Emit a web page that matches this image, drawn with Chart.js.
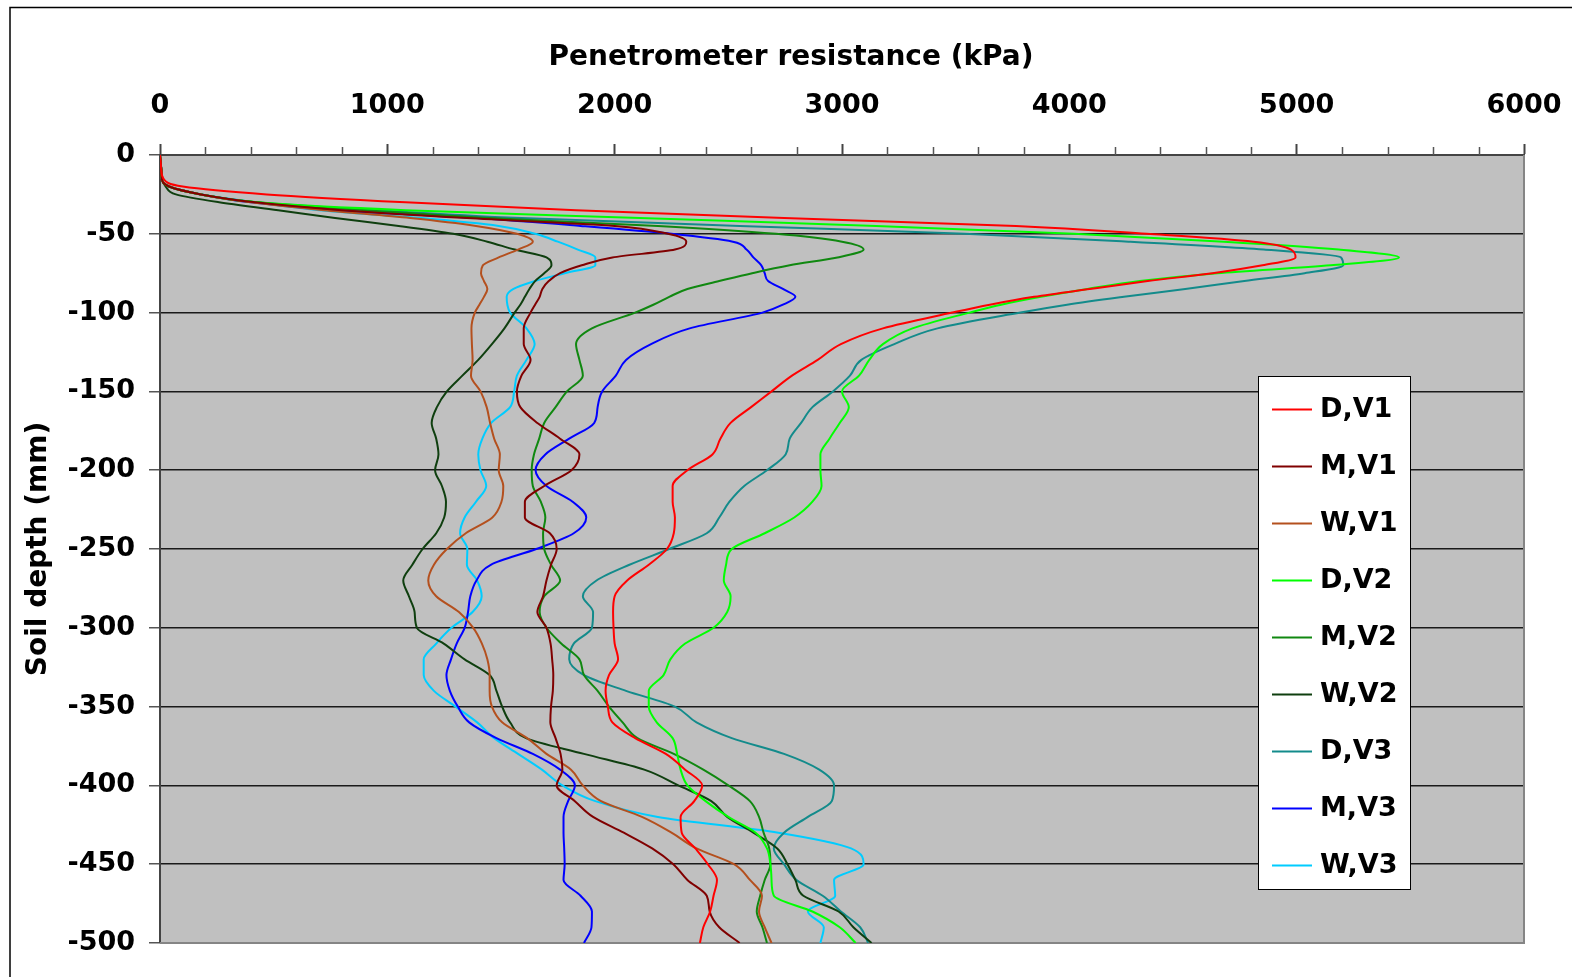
<!DOCTYPE html>
<html><head><meta charset="utf-8">
<script src="https://cdn.jsdelivr.net/npm/chart.js@4.4.1/dist/chart.umd.min.js"></script>
<style>html,body{margin:0;padding:0;background:#fff;overflow:hidden}canvas{display:block}</style>
</head><body>
<canvas id="c" width="1572" height="977"></canvas>
<script>
// Soil depth (mm) at which each resistance value was read
const depths = [0,-5,-10,-15,-20,-25,-30,-35,-40,-45,-50,-55,-60,-65,-70,-75,-80,-85,-90,-95,-100,
  -110,-120,-130,-140,-150,-160,-170,-180,-190,-200,-210,-220,-230,-240,-250,-260,-270,-280,-290,-300,
  -310,-320,-330,-340,-350,-360,-370,-380,-390,-400,-410,-420,-430,-440,-450,-460,-470,-480,-490,-500];

const seriesLabels = ['D,V1','M,V1','W,V1','D,V2','M,V2','W,V2','D,V3','M,V3','W,V3'];
const seriesColors = ['#FF0000','#800000','#B4501E','#00FF00','#108810','#0F3F0F','#138B8B','#0000FF','#00CCFF'];

const dV1 = [0,3,6,15,100,470,1080,1830,2745,3765,4340,4810,4975,4995,4850,4630,4345,4090,3845,3650,3485,
  3180,2995,2893,2780,2690,2600,2510,2465,2430,2320,2255,2255,2265,2260,2230,2150,2055,2000,1993,1995,
  2000,2015,1975,1960,1970,1990,2090,2225,2310,2385,2350,2290,2295,2355,2410,2450,2435,2420,2390,2375];
const mV1 = [0,3,6,8,40,180,420,800,1350,2000,2235,2315,2265,1990,1855,1760,1710,1682,1670,1650,1630,
  1600,1600,1630,1590,1570,1585,1660,1760,1845,1810,1690,1605,1605,1715,1745,1720,1700,1685,1660,1700,
  1718,1725,1730,1728,1720,1717,1740,1762,1770,1745,1825,1905,2040,2165,2258,2320,2405,2418,2460,2550];
const wV1 = [0,3,6,8,40,180,400,720,1100,1390,1570,1640,1575,1490,1420,1412,1425,1440,1425,1405,1385,
  1370,1372,1375,1368,1410,1437,1452,1470,1495,1490,1510,1502,1462,1345,1262,1205,1180,1215,1315,1378,
  1416,1440,1450,1450,1460,1505,1615,1700,1808,1860,1940,2120,2250,2360,2525,2595,2648,2635,2660,2690];
const dV2 = [0,3,6,8,40,180,430,1080,2110,3150,4020,4680,5185,5450,5150,4650,4310,4080,3875,3700,3560,
  3310,3180,3120,3075,3000,3030,2990,2945,2905,2905,2910,2870,2790,2660,2515,2490,2480,2510,2495,2435,
  2310,2245,2215,2150,2150,2185,2255,2275,2290,2320,2400,2500,2620,2670,2685,2690,2700,2870,2990,3060];
const mV2 = [0,3,6,8,40,180,420,900,1450,2190,2710,3000,3095,2980,2770,2605,2460,2320,2240,2170,2090,
  1900,1830,1845,1860,1790,1740,1690,1668,1645,1635,1640,1675,1695,1685,1690,1720,1760,1690,1670,1700,
  1765,1845,1865,1925,1975,2035,2100,2260,2390,2500,2595,2635,2655,2680,2685,2660,2640,2625,2650,2670];
const wV2 = [0,3,6,8,25,70,260,520,770,1050,1290,1440,1560,1700,1722,1690,1650,1625,1605,1585,1560,
  1515,1460,1400,1330,1262,1218,1195,1215,1225,1210,1240,1258,1250,1215,1155,1110,1070,1095,1120,1130,
  1248,1340,1450,1480,1505,1540,1610,1865,2130,2280,2425,2495,2610,2715,2760,2795,2830,2985,3050,3130];
const dV3 = [0,3,6,8,40,180,420,950,1590,2550,3540,4260,4855,5195,5205,5035,4770,4510,4240,3990,3785,
  3420,3230,3085,3035,2960,2870,2820,2770,2752,2670,2570,2505,2460,2405,2240,2065,1920,1860,1905,1900,
  1820,1800,1865,2050,2265,2360,2515,2745,2900,2965,2955,2850,2745,2700,2745,2800,2915,2995,3080,3115];
const mV3 = [0,3,6,8,40,180,400,780,1390,1850,2250,2520,2580,2610,2645,2660,2675,2740,2795,2740,2650,
  2330,2160,2050,2005,1945,1925,1910,1800,1695,1652,1700,1815,1875,1820,1655,1455,1392,1365,1355,1340,
  1305,1280,1260,1275,1310,1360,1480,1640,1760,1825,1795,1775,1775,1778,1780,1775,1850,1900,1898,1865];
const wV3 = [0,3,6,8,40,180,420,700,1150,1490,1650,1750,1838,1915,1915,1780,1650,1555,1525,1528,1540,
  1612,1648,1612,1570,1558,1540,1457,1418,1400,1410,1435,1390,1340,1320,1352,1350,1395,1415,1375,1282,
  1215,1160,1160,1205,1300,1395,1470,1575,1680,1770,1915,2190,2720,3040,3095,2965,2970,2850,2920,2905];

const seriesValues = [dV1, mV1, wV1, dV2, mV2, wV2, dV3, mV3, wV3];

const xTickValues = [0,1000,2000,3000,4000,5000,6000];
const xTickLabels = ['0','1000','2000','3000','4000','5000','6000'];
const xMinorStep = 200;
const yTickValues = [0,-50,-100,-150,-200,-250,-300,-350,-400,-450,-500];
const yTickLabels = ['0','-50','-100','-150','-200','-250','-300','-350','-400','-450','-500'];
const xTitle = 'Penetrometer resistance (kPa)';
const yTitle = 'Soil depth (mm)';

const FONT = '"DejaVu Sans", "Liberation Sans", Arial, sans-serif';

const datasets = seriesLabels.map((lab, k) => ({
  label: lab,
  data: depths.map((d, i) => ({x: seriesValues[k][i], y: d})),
  borderColor: seriesColors[k],
  backgroundColor: seriesColors[k],
  borderWidth: 2,
  pointRadius: 0,
  fill: false,
  cubicInterpolationMode: 'monotone'
}));

const bgPlugin = {
  id: 'plotBg',
  beforeDraw(chart) {
    const {ctx, chartArea: a} = chart;
    ctx.save();
    ctx.fillStyle = '#C0C0C0';
    ctx.fillRect(a.left, a.top, a.right - a.left, a.bottom - a.top);
    ctx.restore();
  },
  beforeDatasetsDraw(chart) {
    const {ctx, chartArea: a} = chart;
    const xs = chart.scales.x;
    ctx.save();
    ctx.strokeStyle = '#858585';
    ctx.lineWidth = 2;
    ctx.beginPath();
    ctx.moveTo(a.left, a.bottom);
    ctx.lineTo(a.right, a.bottom);
    ctx.lineTo(a.right, a.top);
    ctx.stroke();
    // minor tick marks on the top axis
    ctx.strokeStyle = '#555';
    ctx.lineWidth = 1.5;
    ctx.beginPath();
    for (let v = xs.min; v <= xs.max; v += xMinorStep) {
      if (xTickValues.includes(v)) continue;
      const px = Math.round(xs.getPixelForValue(v)) + 0.5;
      ctx.moveTo(px, a.top);
      ctx.lineTo(px, a.top - 8);
    }
    ctx.stroke();
    ctx.restore();
  },
  afterDraw(chart) {
    const ctx = chart.ctx;
    ctx.save();
    // outer chart frame
    ctx.strokeStyle = '#000';
    ctx.lineWidth = 1.5;
    ctx.strokeRect(10, 7.5, 1700, 1100);
    // x axis title (offset left of plot centre, as in the original)
    ctx.fillStyle = '#000';
    ctx.font = 'bold 28px ' + FONT;
    ctx.textAlign = 'center';
    ctx.textBaseline = 'middle';
    ctx.fillText(xTitle, 791, 58);
    // legend box
    const L = 1258, T = 376, R = 1410, B = 889;
    ctx.fillStyle = '#fff';
    ctx.fillRect(L, T, R - L, B - T);
    ctx.strokeStyle = '#000';
    ctx.lineWidth = 1;
    ctx.strokeRect(L + 0.5, T + 0.5, R - L, B - T);
    const step = (B - T) / chart.data.datasets.length;
    ctx.font = 'bold 27px ' + FONT;
    ctx.textBaseline = 'middle';
    ctx.textAlign = 'left';
    chart.data.datasets.forEach((ds, i) => {
      const y = T + step * (i + 0.5) + 5;
      ctx.strokeStyle = ds.borderColor;
      ctx.lineWidth = 2;
      ctx.beginPath();
      ctx.moveTo(L + 14, y);
      ctx.lineTo(L + 54, y);
      ctx.stroke();
      ctx.fillStyle = '#000';
      ctx.fillText(ds.label, L + 62, y);
    });
    ctx.restore();
  }
};

new Chart(document.getElementById('c'), {
  type: 'line',
  data: { datasets },
  plugins: [bgPlugin],
  options: {
    indexAxis: 'y',
    responsive: false,
    animation: false,
    devicePixelRatio: 1,
    layout: { padding: { left: 10, top: 8, right: 48, bottom: 34 } },
    plugins: { legend: { display: false }, tooltip: { enabled: false } },
    scales: {
      x: {
        type: 'linear',
        position: 'top',
        min: 0, max: 6000,
        afterFit(s) { s.height = 147; s.paddingRight = 0; s.paddingLeft = 0; },
        afterBuildTicks(s) { s.ticks = xTickValues.map(v => ({value: v})); },
        ticks: {
          autoSkip: false,
          maxRotation: 0,
          padding: 22,
          color: '#000',
          font: { family: FONT, size: 27, weight: 'bold' },
          callback(v) { const i = xTickValues.indexOf(v); return i >= 0 ? xTickLabels[i] : ''; }
        },
        grid: { drawOnChartArea: false, drawTicks: true, tickLength: 11, tickColor: '#444', color: '#444', tickWidth: 2 },
        border: { display: true, color: '#444', width: 2 },
        title: { display: false }
      },
      y: {
        type: 'linear',
        position: 'left',
        min: -500, max: 0,
        afterFit(s) { s.width = 150; },
        ticks: {
          stepSize: 50,
          autoSkip: false,
          padding: 14,
          color: '#000',
          font: { family: FONT, size: 27, weight: 'bold' },
          callback(v) { const i = yTickValues.indexOf(v); return i >= 0 ? yTickLabels[i] : ''; }
        },
        grid: {
          drawOnChartArea: true,
          tickLength: 11,
          tickColor: '#555',
          lineWidth: 1.5,
          color(c) { return c.tick && c.tick.value === -500 ? '#858585' : '#1a1a1a'; }
        },
        border: { display: true, color: '#444', width: 2 },
        title: {
          display: true,
          text: yTitle,
          color: '#000',
          font: { family: FONT, size: 28, weight: 'bold' },
          padding: { top: 12, bottom: 0 }
        }
      }
    }
  }
});
</script>
</body></html>
